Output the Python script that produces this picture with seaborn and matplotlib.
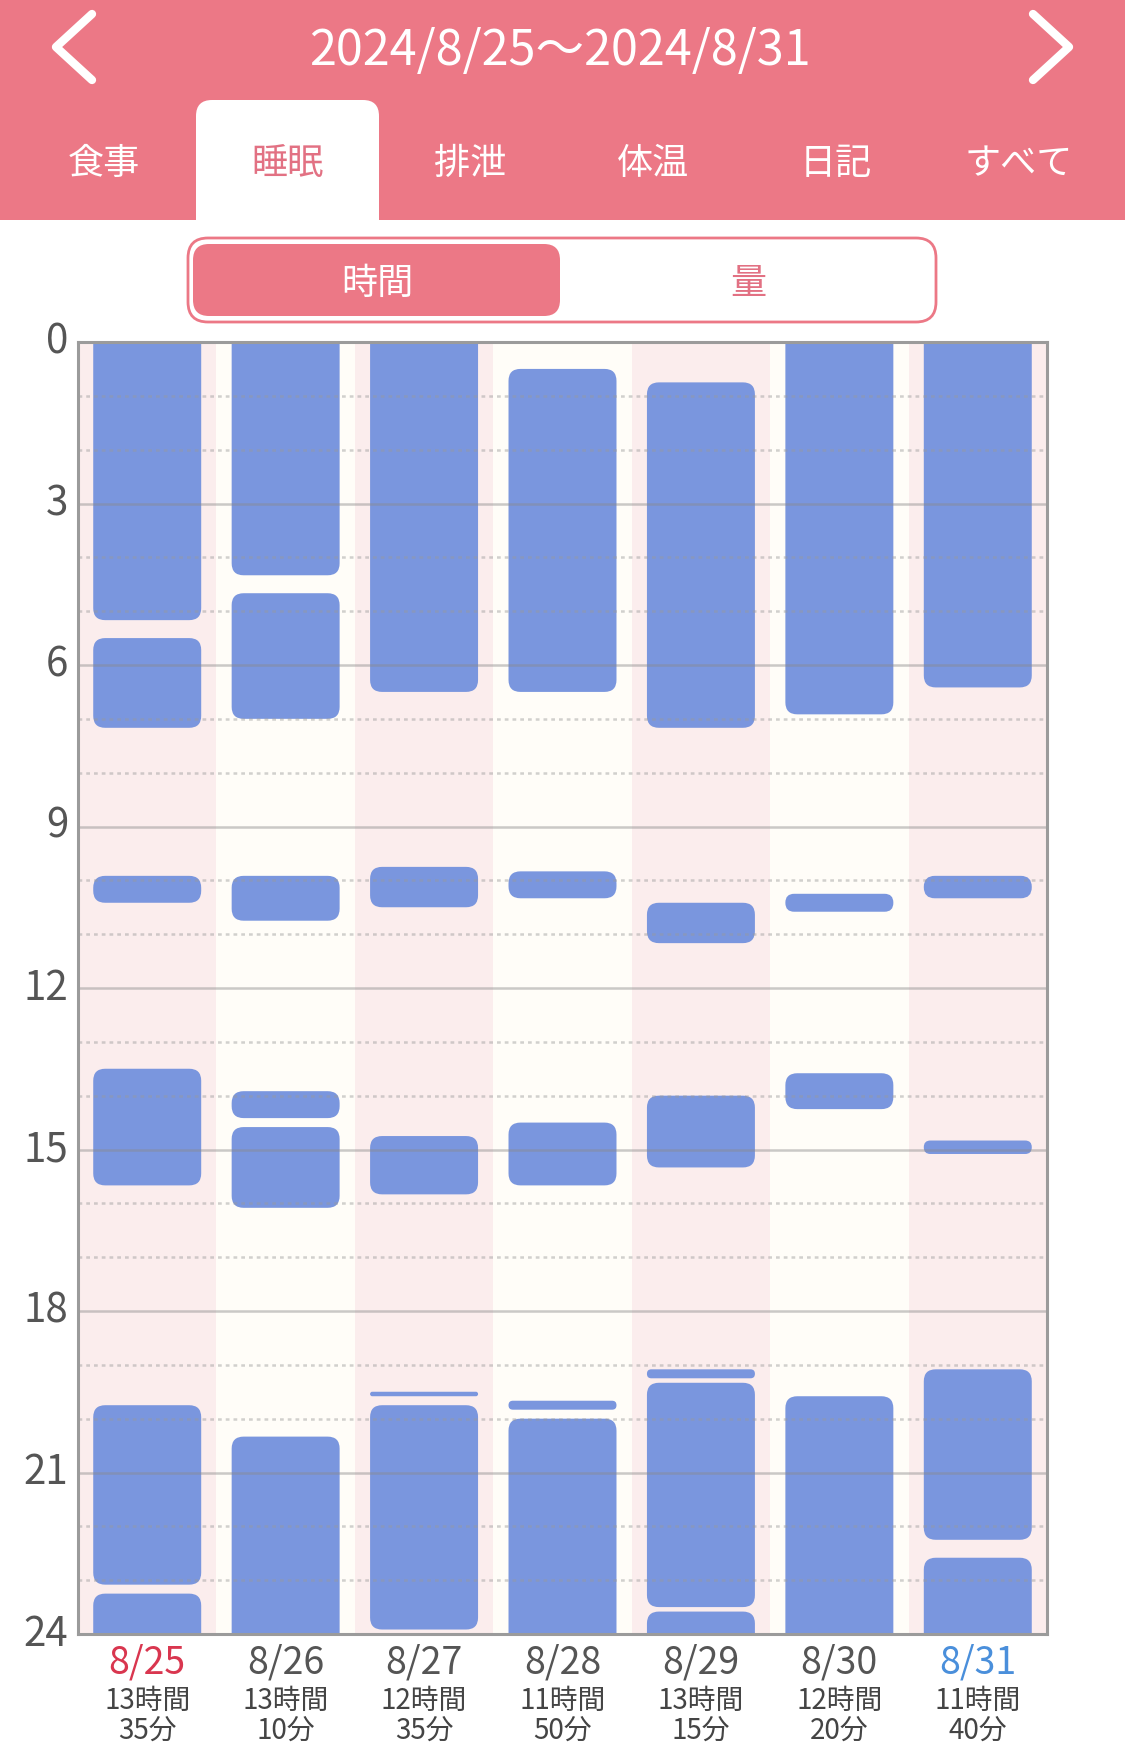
import numpy as np
import pandas as pd
import seaborn as sns
import matplotlib.pyplot as plt
from matplotlib.patches import FancyBboxPatch, Rectangle

# --- data ---
dates = ["8/25", "8/26", "8/27", "8/28", "8/29", "8/30", "8/31"]
date_colors = ["#D9364F", "#555555", "#555555", "#555555", "#555555", "#555555", "#4A8FDB"]
total_hours = [13, 13, 12, 11, 13, 12, 11]
total_minutes = [35, 10, 35, 50, 15, 20, 40]

sleep_0825 = [("0:00", "5:10"), ("5:30", "7:10"), ("9:55", "10:25"), ("13:30", "15:40"),
              ("19:45", "23:05"), ("23:15", "24:00")]
sleep_0826 = [("0:00", "4:20"), ("4:40", "7:00"), ("9:55", "10:45"), ("13:55", "14:25"),
              ("14:35", "16:05"), ("20:20", "24:00")]
sleep_0827 = [("0:00", "6:30"), ("9:45", "10:30"), ("14:45", "15:50"), ("19:30", "19:35"),
              ("19:45", "23:55")]
sleep_0828 = [("0:30", "6:30"), ("9:50", "10:20"), ("14:30", "15:40"), ("19:40", "19:50"),
              ("20:00", "24:00")]
sleep_0829 = [("0:45", "7:10"), ("10:25", "11:10"), ("14:00", "15:20"), ("19:05", "19:15"),
              ("19:20", "23:30"), ("23:35", "24:00")]
sleep_0830 = [("0:00", "6:55"), ("10:15", "10:35"), ("13:35", "14:15"), ("19:35", "24:00")]
sleep_0831 = [("0:00", "6:25"), ("9:55", "10:20"), ("14:50", "15:05"), ("19:05", "22:15"),
              ("22:35", "24:00")]

tabs = ["食事", "睡眠", "排泄", "体温", "日記", "すべて"]
title = "2024/8/25〜2024/8/31"

sleep_by_day = [sleep_0825, sleep_0826, sleep_0827, sleep_0828, sleep_0829, sleep_0830, sleep_0831]


def to_hours(s):
    h, m = s.split(":")
    return int(h) + int(m) / 60.0


rows = []
for i, segs in enumerate(sleep_by_day):
    for a, b in segs:
        rows.append({"day": i, "date": dates[i], "start": to_hours(a), "end": to_hours(b)})
df = pd.DataFrame(rows)

# --- style ---
sns.set_theme(style="white")
plt.rcParams['font.family'] = ['Noto Sans CJK JP', 'DejaVu Sans']

PINK = "#EC7886"
PINK_TXT = "#E27183"
BAR = "#7A96DE"
COL_A = "#FBEDED"
COL_B = "#FFFDF8"

W, H = 1125, 1745
fig = plt.figure(figsize=(W / 100, H / 100), dpi=100)
fig.patch.set_facecolor("white")

# header drawn in pixel coordinates
hdr = fig.add_axes([0, 0, 1, 1], zorder=-1)
hdr.set_xlim(0, W)
hdr.set_ylim(H, 0)
hdr.axis("off")
hdr.add_patch(Rectangle((0, 0), W, 220, fc=PINK, ec="none"))
hdr.add_patch(FancyBboxPatch((196, 100), 183, 150, boxstyle="round,pad=0,rounding_size=16",
                             fc="white", ec="none"))
hdr.text(560, 51, title, color="white", fontsize=35, ha="center", va="center")
hdr.plot([92, 56, 92], [14, 47, 80], color="white", lw=6,
         solid_capstyle="round", solid_joinstyle="round")
hdr.plot([1033, 1069, 1033], [14, 47, 80], color="white", lw=6,
         solid_capstyle="round", solid_joinstyle="round")
for i, t in enumerate(tabs):
    hdr.text(104 + 183 * i, 164, t, fontsize=26, ha="center", va="center",
             color=PINK_TXT if i == 1 else "white")

hdr.add_patch(FancyBboxPatch((188, 238), 748, 84, boxstyle="round,pad=0,rounding_size=20",
                             fc="white", ec=PINK, lw=2))
hdr.add_patch(FancyBboxPatch((193, 244), 367, 72, boxstyle="round,pad=0,rounding_size=16",
                             fc=PINK, ec="none"))
hdr.text(377, 284, "時間", fontsize=26, ha="center", va="center", color="white")
hdr.text(748, 284, "量", fontsize=26, ha="center", va="center", color=PINK_TXT)

# chart
top, bottom, left, right = 342, 1634, 78, 1047
ax = fig.add_axes([left / W, 1 - bottom / H, (right - left) / W, (bottom - top) / H])
ax.set_xlim(-0.5, len(dates) - 0.5)
ax.set_ylim(24, 0)

for i in range(len(dates)):
    ax.axvspan(i - 0.5, i + 0.5, color=COL_A if i % 2 == 0 else COL_B, zorder=0, lw=0)

px_x = (right - left) / len(dates)
px_y = (bottom - top) / 24.0
aspect = px_x / px_y
r_full = 12 / px_x
bw = 0.78
for _, r in df.iterrows():
    s, e = r["start"], r["end"]
    # bars that touch the day edges are cut flat by the frame
    s_draw = s - 0.4 if s <= 0 else s
    e_draw = e + 0.4 if e >= 24 else e
    rad = min(r_full, (e_draw - s_draw) / 2 / aspect * 0.98)
    ax.add_patch(FancyBboxPatch((r["day"] - bw / 2, s_draw), bw, e_draw - s_draw,
                                boxstyle=f"round,pad=0,rounding_size={rad}",
                                mutation_aspect=aspect, fc=BAR, ec="none", zorder=2))

for h in range(1, 24):
    if h % 3 == 0:
        ax.axhline(h, color="#8a8a8a", alpha=0.45, lw=1.8, zorder=3)
    else:
        ax.axhline(h, color="#9a9a9a", alpha=0.45, lw=1.8, zorder=3,
                   linestyle=(0, (1.5, 1.6)))

for sp in ax.spines.values():
    sp.set_visible(True)
    sp.set_color("#9b9b9b")
    sp.set_linewidth(2.2)
    sp.set_zorder(5)

ax.set_yticks(range(0, 25, 3))
ax.tick_params(axis="y", length=0, pad=7, labelsize=29, labelcolor="#555555")
ax.set_xticks(range(len(dates)))
ax.set_xticklabels(dates)
ax.tick_params(axis="x", length=0, pad=21, labelsize=27)
for lab, c in zip(ax.get_xticklabels(), date_colors):
    lab.set_color(c)
    lab.set_va("center")
for lab in ax.get_yticklabels():
    lab.set_va("center")

for i in range(len(dates)):
    ax.text(i, -0.0635, f"{total_hours[i]}時間\n{total_minutes[i]}分",
            transform=ax.get_xaxis_transform(), ha="center", va="center",
            fontsize=20, linespacing=0.98, color="#444444")

fig.savefig("out.png", dpi=100, facecolor="white")
